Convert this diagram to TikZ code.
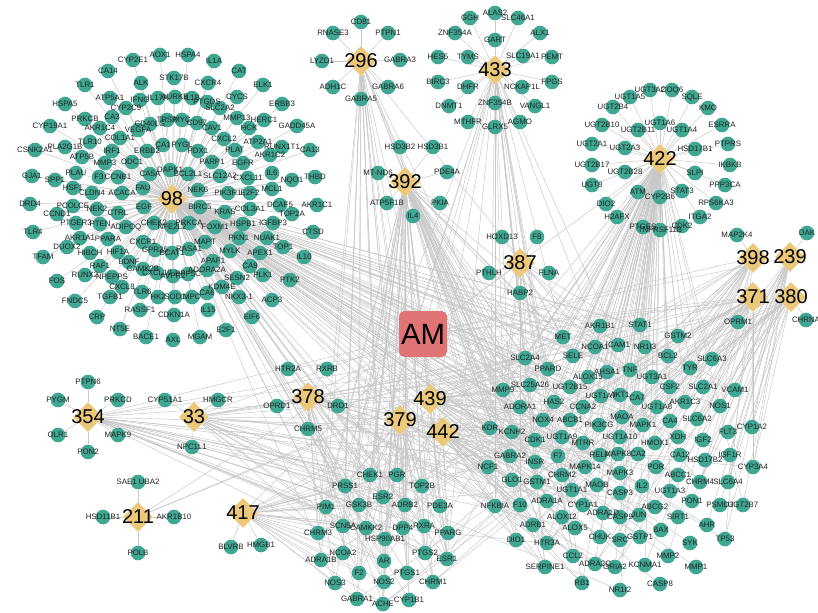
\documentclass[tikz,border=0pt]{standalone}
\usepackage{fontspec}
\setmainfont{Liberation Sans}
\usetikzlibrary{shapes.geometric}
\definecolor{teal1}{RGB}{64,168,146}
\definecolor{gold1}{RGB}{236,201,122}
\definecolor{amred}{RGB}{224,116,116}
\definecolor{edgegray}{RGB}{200,200,200}
\definecolor{txt}{RGB}{35,35,35}
\pgfdeclarelayer{bglayer}
\pgfdeclarelayer{edgelayer}
\pgfsetlayers{bglayer,edgelayer,main}
\expandafter\def\csname lblMTND6\endcsname{MT-ND6}
\expandafter\def\csname lblNKX31\endcsname{NKX3-1}
\expandafter\def\csname lblSAEUBA\endcsname{SAE1 UBA2}
\newcommand\glabeltext[1]{\ifcsname lbl#1\endcsname\csname lbl#1\endcsname\else#1\fi}
\tikzset{
  gene/.style={circle, fill=teal1, minimum size=11pt, inner sep=0pt},
  glab/.style={font=\fontsize{5.9}{6}\selectfont, text=txt, inner sep=0pt},
  hub/.style={diamond, fill=gold1, minimum width=22.5pt, minimum height=22.5pt, inner sep=0pt},
  hlab/.style={font=\fontsize{15}{15}\selectfont, text=black, inner sep=0pt},
  amnode/.style={rounded corners=4pt, fill=amred, minimum width=36pt, minimum height=34.5pt, inner sep=0pt, font=\fontsize{22}{22}\selectfont},
  lnk/.style={draw=edgegray, line width=0.35pt}
}
\def\Cnine{CYP2E1/133/60, AOX1/160/55, HSPA4/188/55, IL1A/214/61, CA14/108/71, CAT/239/71, TLR1/85/85, ALK/141/83, STK17B/174/78, CXCR4/208/83, ELK1/263/85, HSPA5/65/104, ATP5A1/110/98, IFNG/140/100, IL17A/158/98, AURKB/175/97, IL1B/192/98, PTGDS/207/102, CYCS/237/97, ERBB3/282/104, CYP2C9/126/108, SLC2A2/220/108, CA3/112/117, PRKCB/85/119, MMP13/237/118, HERC1/264/120, CYP19A1/50/126, AKR1C4/100/128, CD40LG/150/124, TRSP/167/120, MYC/182/120, CD97/197/123, GADD45A/297/126, CAV1/212/128, HCK/249/128, VEGFA/138/130, COL1A1/120/138, CXCL2/224/139, ATP2A1/258/142, TLR10/90/142, PLA2G1B/65/147, RUNX1T1/282/147, CSNK2A1/35/150, IRF1/112/151, ERBB2/147/151, CA1/163/145, PYGL/182/145, PDX1/198/151, PLAT/235/150, CA13/310/150, AKR1C2/270/155, ATP5B/82/157, MMP3/105/163, ODC1/132/162, PARP1/212/162, EGFR/243/163, GJA1/32/176, SPP1/55/180, PLAU/76/173, F3/99/177, CCNB1/118/177, CA5A/150/174, DAPK1/170/170, BCL2L1/188/174, SLC12A2/220/176, CXCL11/248/178, IL6/272/173, NQO1/292/180, THBD/315/177, HSF1/73/188, CLDN4/92/193, ACACA/122/193, FAU/143/188, NEK6/198/190, PIK3R1/228/193, E2F2/250/193, MCL1/272/189, DRD4/30/204, PCOLCE/73/206, NEK2/97/209, CTRL/118/213, EGF/144/207, BIRC5/200/207, DCAF5/280/205, AKR1C1/317/205, COL3A1/250/209, KRAS/225/212, CCND1/57/214, TOP2A/292/214, TLR4/33/232, PTGER3/76/223, PTEN/100/224, ADIPOQ/126/227, CHEK2/154/223, NFE2L2/172/227, PRKCA/189/223, FOXM1/215/227, HSPB1/243/224, IGFBP3/273/223, CTSD/313/232, AKR1A1/80/238, PPARA/108/239, CXCR1/143/242, MAPT/205/242, PKN1/239/238, NUAK1/267/238, DUOX2/67/247, TOP1/283/247, GPR35/155/250, RASA1/189/249, MYLK/230/251, HIBCH/90/253, HIF1A/118/252, BCAT1/172/253, APEX1/260/253, TFAM/43/257, IL10/304/257, APAF1/213/261, BDNF/129/262, RAF1/100/266, CA9/250/266, ADORA2A/207/270, CAMK2B/143/269, RUNX2/85/275, PLK1/263/275, AVPR2/173/276, CXCL10/157/273, PPP5C/188/274, NPEPPS/112/277, SESN2/237/278, FOS/57/281, PTK2/290/280, CXCL8/122/287, KDM4E/222/287, TLR6/142/292, CA6/207/293, HK2/158/297, SOD1/175/297, MPO/192/297, TGFB1/110/297, NKX31/239/297, ACP3/272/300, FNDC5/75/301, RASSF1/140/310, IL15/208/310, CDKN1A/174/315, CRP/97/317, EIF6/252/317, NT5E/120/329, E2F1/226/330, BACE1/146/337, AXL/173/340, MGAM/200/337}
\def\Ctwo{CD81/361/22, RNASE3/333/33, PTPN1/388/33, LYZD1/322/61, GABRA3/400/60, ADH1C/333/87, GABRA6/388/87, GABRA5/361/99}
\def\Cfour{ALAS2/495/13, GGH/470/18, SLC46A1/518/18, ZNF354A/455/33, ALX1/540/33, GART/495/40, HES5/438/57, TYMS/468/57, SLC19A1/523/56, PEMT/552/57, BIRC3/438/82, DHFR/468/87, NCKAP1L/522/87, FPGS/552/82, DNMT1/449/106, ZNF354B/495/103, VANGL1/535/106, MTHFR/468/122, GLRX5/495/127, AGMO/520/122}
\def\Cthree{HSD3B2/400/147, HSD3B1/433/147, MTND6/378/173, PDE4A/447/172, ATP5F1B/387/203, PKIA/440/203, IL4/413/216}
\def\Cfourtwo{UGT3A2/650/90, COQ6/672/90, UGT1A5/630/97, SQLE/692/97, UGT2B4/613/107, KMO/708/108, UGT2B10/602/125, UGT1A6/660/123, UGT2B11/638/130, UGT1A4/682/130, ESRRA/722/125, UGT2A1/592/144, UGT2A3/625/148, HSD17B1/695/149, PTPRS/728/144, UGT2B17/592/165, IKBKB/730/165, UGT2B28/625/172, SLPI/695/173, UGT8/592/185, PPP3CA/725/185, ATM/638/192, STAT3/682/191, CYP2B6/660/197, DIO2/606/204, RPS6KA3/716/203, H2AFX/617/217, ITGA2/700/217, PTGES/643/227, TNFRSF11B/660/230, CDK2/682/226}
\def\Ceight{HOXD13/502/237, F8/537/237, PTHLH/489/273, FLNA/549/273, HABP2/520/293}
\def\Cfive{PTPN6/88/382, PYGM/58/400, PRKCD/118/400, OLR1/58/435, MAPK9/118/435, PON2/88/452}
\def\Cthirty{CYP51A1/165/400, HMGCR/218/400, NPC1L1/192/447}
\def\Celeven{SAEUBA/138/482, HSD11B1/103/517, AKR1B10/174/517, POLB/138/553}
\def\Cseven{HTR2A/288/369, RXRB/327/369, OPRD1/277/406, DRD1/338/406, CHRM5/308/429}
\def\Csix{BLVRB/231/547, HMGB1/261/545}
\def\Cmisc{MAP2K4/737/235, DAK/807/233, OPRM1/738/322, CHRNA/806/320}
\def\Shared{CHEK1/370/475, PGR/397/475, PRSS1/345/486, ESR2/383/497, ADRB2/405/505, PIM1/326/507, GSK3B/359/505, SCN5A/343/526, CAMKK2/366/528, DPP4/403/528, CHRM3/318/533, HSP90AB1/385/539, NCOA2/343/553, ADRA1B/321/560, AR/384/561, F2/359/573, NOS3/335/583, NOS2/384/582, GABRA1/357/599, ACHE/383/604, CYP1B1/409/600, PTGS1/407/573, CHRM1/433/582, PTGS2/425/553, ESR1/447/559, TOP2B/422/486, PDE3A/440/506, RXRA/424/526, PPARG/448/533, MET/563/337, AKR1B1/600/326, STAT1/640/325, GSTM2/678/336, NCOA1/595/347, ICAM1/618/345, NR1I3/645/347, BCL2/668/356, SLC6A3/712/359, SLC2A4/525/358, SELE/573/356, PPARD/548/369, AHSA1/607/372, TNF/630/370, TYR/690/368, UGT3A1/652/377, ALOX15/588/377, SLC25A26/530/385, UGT2B15/570/387, CSF2/670/387, SLC2A1/703/387, VCAM1/735/390, MMP9/503/390, UGT1A7/601/396, AKT1/620/395, CA7/637/398, ADORA1/520/407, HAS2/554/402, CCNA2/583/407, UGT1A8/657/407, AKR1C3/685/402, NOS1/720/406, MAOA/622/417, MAPK1/643/425, CA4/670/421, SLC6A2/697/419, NOX4/543/420, ABCB1/570/420, PIK3CG/599/425, FLT3/728/432, CYP1A2/752/427, KDR/490/428, KCNH2/512/432, CDK1/535/440, UGT1A9/562/437, UGT1A10/620/437, MTRR/583/443, HMOX1/655/443, XDH/678/437, IGF2/703/440, RELA/600/455, MAPK8/618/454, CA2/638/454, CA12/680/455, HSD17B2/705/460, IGF1R/730/455, GABRA2/510/456, INSR/535/462, F7/558/456, MAPK14/585/467, NCF1/488/467, CYP3A4/753/467, POR/656/467, MAPK3/620/473, ABCC1/678/475, CHRM2/562/475, GLO1/512/480, GSTM1/537/482, MAOB/597/485, CHRM4/700/482, SLC6A4/728/482, IL2/642/486, UGT1A1/572/490, CASP3/620/493, UGT1A3/670/491, PON1/692/501, PSMD3/720/505, UGT2B7/743/505, NFKBIA/495/506, F10/520/505, ADRA1A/547/501, CYP1A1/583/505, ABCG2/655/507, ADRA1D/603/513, ALOX12/562/517, CASP9/620/517, JUN/639/515, SIRT1/678/517, ADRB1/533/525, ALOX5/575/528, AHR/707/525, BAX/661/530, CHUK/600/537, SRC/620/540, GSTP1/640/537, DIO1/516/540, HTR3A/547/543, SYK/690/543, TP53/725/539, CCL2/573/556, MMP2/668/556, ADRA2C/595/564, GRIA2/615/567, KCNMA1/645/565, MMP1/696/567, SERPINE1/545/567, RB1/582/583, CASP8/660/584, NR1I2/620/590}
\edef\AllGenes{\Cnine,\Ctwo,\Cfour,\Cthree,\Cfourtwo,\Ceight,\Cfive,\Cthirty,\Celeven,\Cseven,\Csix,\Cmisc,\Shared}
\def\Hubs{98/172/199, 296/361/61, 433/495/70, 392/405/182, 422/660/159, 387/520/263, 398/753/258, 239/790/257, 371/753/297, 380/791/297, 354/88/417, 33/194/417, 211/138/517, 378/308/397, 379/400/420, 439/430/399, 442/443/432, 417/243/513}
\begin{document}
\begin{tikzpicture}[x=0.75pt,y=-0.75pt]
\useasboundingbox (0,0) rectangle (818,613);
\begin{pgfonlayer}{bglayer}
\fill[white] (0,0) rectangle (818,613);
\end{pgfonlayer}
% gene circles
\foreach \n/\x/\y in \AllGenes {\node[gene] (\n) at (\x,\y) {};}
% hubs
\foreach \h/\x/\y in \Hubs {\node[hub] (h\h) at (\x,\y) {};}
% gene labels
\foreach \n/\x/\y in \AllGenes {\node[glab] (\n-t) at (\n) {\glabeltext{\n}};}
% hub labels
\foreach \h/\x/\y in \Hubs {\node[hlab] (h\h-t) at (h\h) {\h};}
% AM
\node[amnode] (am) at (423,334) {AM};
\begin{pgfonlayer}{edgelayer}
\foreach \h/\x/\y in \Hubs {\draw[lnk] (am) -- (h\h);}
\foreach \n/\x/\y in \Cnine {\draw[lnk] (h98) -- (\n);}
\foreach \n/\x/\y in \Ctwo {\draw[lnk] (h296) -- (\n);}
\foreach \n/\x/\y in \Cfour {\draw[lnk] (h433) -- (\n);}
\foreach \n/\x/\y in \Cthree {\draw[lnk] (h392) -- (\n);}
\foreach \n/\x/\y in \Cfourtwo {\draw[lnk] (h422) -- (\n);}
\foreach \n/\x/\y in \Ceight {\draw[lnk] (h387) -- (\n);}
\foreach \n/\x/\y in \Cfive {\draw[lnk] (h354) -- (\n);}
\foreach \n/\x/\y in \Cthirty {\draw[lnk] (h33) -- (\n);}
\foreach \n/\x/\y in \Celeven {\draw[lnk] (h211) -- (\n);}
\foreach \n/\x/\y in \Cseven {\draw[lnk] (h378) -- (\n);}
\foreach \n/\x/\y in \Csix {\draw[lnk] (h417) -- (\n);}
\draw[lnk] (h398) -- (MAP2K4);
\draw[lnk] (h239) -- (DAK);
\draw[lnk] (h371) -- (OPRM1);
\draw[lnk] (h380) -- (CHRNA);
\foreach \n in {MET, AKR1B1, STAT1, NCOA1, ICAM1, BCL2, SLC2A4, SELE, PPARD, TNF, ALOX15, UGT2B15, CSF2, MMP9, AKT1, HAS2, CCNA2, NOS1, MAOA, MAPK1, NOX4, ABCB1, PIK3CG, KDR, CDK1, RELA, MAPK8, INSR, MAPK14, NCF1, MAPK3, GSTM1, IL2, CASP3, NFKBIA, CYP1A1, CASP9, JUN, SIRT1, BAX, CHUK, SRC, GSTP1, TP53, CCL2, MMP2, MMP1, SERPINE1, RB1, CASP8, HMOX1, IGF1R, AHR, SYK, PTGS2, ESR1, ESR2, PGR, CHEK1, GSK3B, PIM1, HSP90AB1, AR, NOS2, NOS3, TOP2B, PPARG, RXRA, ADRB2, PTGS1, CYP1B1, PRSS1, CAMKK2, VCAM1, IGF2, XDH, ABCG2, ABCC1, ADORA1, F10, F2, F7, ALOX5, GSTM2, NR1I3, UGT3A1} {\draw[lnk] (h98) -- (\n);}
\foreach \n in {MET, AKR1B1, STAT1, GSTM2, NCOA1, ICAM1, NR1I3, BCL2, SLC6A3, SLC2A4, SELE, PPARD, AHSA1, TNF, TYR, UGT3A1, ALOX15, SLC25A26, UGT2B15, CSF2, SLC2A1, MMP9, UGT1A7, AKT1, CA7, ADORA1, HAS2, CCNA2, UGT1A8, AKR1C3, MAOA, MAPK1, CA4, NOX4, ABCB1, PIK3CG, UGT1A9, UGT1A10, MTRR, HMOX1, RELA, MAPK8, CA2, MAPK14, MAPK3, CHRM2, MAOB, UGT1A1, CASP3, UGT1A3, CYP1A1, ADRA1D, CASP9, JUN, SRC, CHUK, GRIA2, KCNMA1, NR1I2, RB1, ADRA2C, HTR3A, ALOX12, ALOX5, ADRB1, UGT2B7, KDR, CDK1, INSR, F7, GSTM1, GLO1, NFKBIA, ESR1, PTGS2, AR, TOP2B, PGR} {\draw[lnk] (h422) -- (\n);}
\foreach \n in {SLC2A4, MMP9, KDR, NCF1, GABRA2, CHEK1, PGR, ESR2, ADRB2, PRSS1, GSK3B, SCN5A, CAMKK2, DPP4, HSP90AB1, AR, NOS2, ACHE, TOP2B, PDE3A, RXRA, PPARG, PTGS2, ESR1, CYP1B1, PTGS1, CHRM1, ADORA1, INSR, GLO1, NFKBIA, F10, ADRA1A, DIO1, HTR3A, SERPINE1, CCL2, ALOX5, ADRB1, CDK1, KCNH2, NOX4, HAS2, PPARD, SELE, MET, CHRM2, F7, GSTM1, MAPK14, CYP1A1, RELA, TNF, AKT1, NOS3, F2, NCOA2, GABRA1, CHRM3, PIM1} {\draw[lnk] (h392) -- (\n);}
\foreach \n in {MET, SLC2A4, TNF, AKT1, NOX4, CDK1, INSR, GSTM1, CHRM2, TOP2B, PGR, ESR1, DIO1, CCL2, RB1, SERPINE1, NFKBIA, PIM1, CHEK1, GSK3B, KDR, MMP9, PPARD} {\draw[lnk] (h433) -- (\n);}
\foreach \n in {GABRA2, GABRA1, CHRM1, CHRM3, CHRM2, CHRM4, ADRB2, ACHE, NOS2, F2, NCOA2, PTGS1, PTGS2, ESR1, ADRA1B, HTR3A, SCN5A, AR, PRSS1, KCNH2, ADRA1A, DPP4} {\draw[lnk] (h296) -- (\n);}
\foreach \n in {TNF, MET, SELE, MMP9, F7, F10, SERPINE1, CCL2, NFKBIA, ICAM1, VCAM1, F2, PPARD} {\draw[lnk] (h387) -- (\n);}
\foreach \n in {MAPK1, MAPK3, MAPK8, MAPK14, JUN, AKT1, TNF, CASP3, PTGS2, BCL2, NOS1, MMP2, MMP9, RELA, TP53, SRC, STAT1, ESR1, CASP9, ICAM1} {\draw[lnk] (h398) -- (\n);}
\foreach \n in {CYP1A2, CYP3A4, UGT2B7, SLC6A4, SLC6A3, SLC6A2, CHRM4, IGF1R, CA12, XDH, AHR, TP53, PSMD3, HSD17B2, NOS1, FLT3, IGF2, PON1} {\draw[lnk] (h239) -- (\n);}
\foreach \n in {CHRM1, CHRM2, CHRM3, CHRM4, SLC6A4, SLC6A3, SLC6A2, DRD1, ADRA1A, ADRA1B, ADRA1D, ADRB1, ADRB2, ADRA2C, HTR3A, GABRA2, SCN5A, KCNH2, CYP3A4, CYP1A2, OPRD1, HTR2A, GRIA2, ACHE, KCNMA1, MAOA, MAOB} {\draw[lnk] (h371) -- (\n);}
\foreach \n in {CHRM1, CHRM2, CHRM4, SLC6A2, SLC6A4, ACHE, GABRA1, GABRA2, HTR3A, ADRB1, ADRA1A, KCNH2, DRD1, ADRA2C, GRIA2, NOS1, SLC6A3, CHRM5, CYP1A2, CYP3A4} {\draw[lnk] (h380) -- (\n);}
\foreach \n in {PRSS1, PIM1, GSK3B, CHEK1, ESR2, PGR, TOP2B, CAMKK2, HSP90AB1, AR, ESR1, PTGS2, PPARG, RXRA, KDR, NCF1, MET, MMP9, SLC2A4, INSR, MAPK14, ALOX5, PDE3A, F10} {\draw[lnk] (h354) -- (\n);}
\foreach \n in {PGR, ESR1, ESR2, AR, RXRA, PPARG, PPARD, NCOA1, NCOA2, NR1I2, NR1I3, CYP3A4, CYP1A1, SCN5A, ABCB1, ABCG2, MTRR, HSD17B2, UGT2B15, SLC2A4, TOP2B, PTGS2} {\draw[lnk] (h33) -- (\n);}
\foreach \n in {CHRM1, CHRM2, CHRM3, CHRM4, ADRB2, ADRB1, ADRA1A, ADRA1B, ADRA1D, HTR3A, SCN5A, KCNH2, GABRA1, GABRA2, NOS2, NOS3, ACHE, SLC6A2, SLC6A3, SLC6A4, GRIA2, ADRA2C, DPP4, F2} {\draw[lnk] (h378) -- (\n);}
\foreach \n in {CHEK1, PGR, ESR2, GSK3B, PIM1, PRSS1, CAMKK2, HSP90AB1, AR, NOS2, CYP1B1, PTGS1, PTGS2, ESR1, TOP2B, PDE3A, RXRA, PPARG, KDR, NCF1, GLO1, MAPK14, CDK1, F10, F2, F7, DPP4, ADRB2, CHRM1, ACHE} {\draw[lnk] (h379) -- (\n);}
\foreach \n in {MMP9, KDR, KCNH2, ADORA1, HAS2, CCNA2, NOX4, ABCB1, CDK1, INSR, GABRA2, F7, MAPK14, NCF1, GLO1, GSTM1, UGT1A9, PIK3CG, MTRR, PGR, TOP2B, PDE3A, ESR1, SLC2A4, PPARD, SLC25A26, UGT2B15} {\draw[lnk] (h439) -- (\n);}
\foreach \n in {NFKBIA, F10, ADRA1A, ALOX12, ADRB1, ALOX5, DIO1, HTR3A, SERPINE1, CCL2, RB1, CYP1A1, CHUK, ADRA2C, CHRM2, UGT1A1, MAOB, GSTM1, ADORA1, KDR, PTGS2, ESR1, PPARG, GLO1, NCF1} {\draw[lnk] (h442) -- (\n);}
\foreach \n in {PRSS1, PIM1, CHRM3, SCN5A, ADRA1B, NCOA2, NOS3, GSK3B, CHEK1, CAMKK2, HSP90AB1, ESR2, PGR, F2, GABRA1, ACHE, NOS2, AR, ADRB2, DPP4, KDR, MMP9, SLC2A4, HTR3A, MAOA, MAOB, NCF1} {\draw[lnk] (h417) -- (\n);}
\foreach \n in {AKR1B1, MET} {\draw[lnk] (h211) -- (\n);}
\end{pgfonlayer}
\end{tikzpicture}
\end{document}
